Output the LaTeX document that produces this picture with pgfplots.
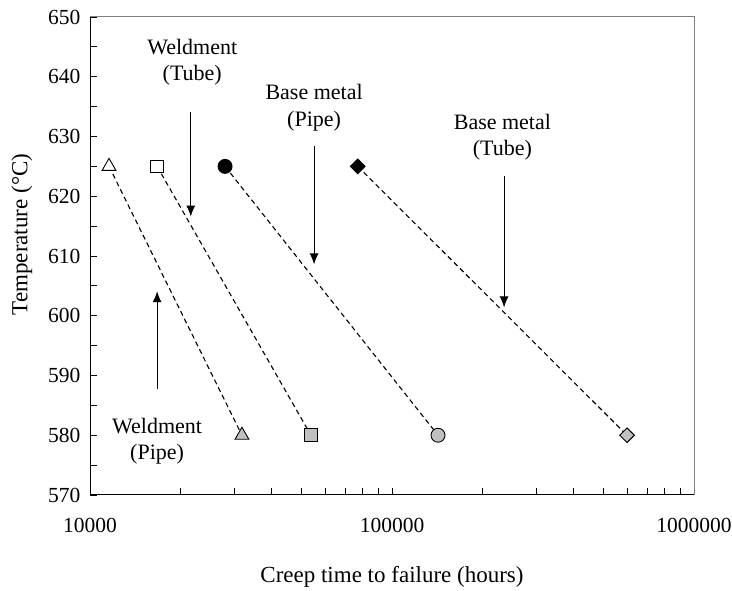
\documentclass[border=0pt]{standalone}
\usepackage{fontspec}
\setmainfont{Liberation Serif}
\usepackage{pgfplots}
\pgfplotsset{compat=1.18}
\usetikzlibrary{arrows.meta}
\definecolor{mgrey}{RGB}{192,192,192}
\begin{document}
\begin{tikzpicture}
\begin{axis}[
  scale only axis, width=604pt, height=478pt,
  xmode=log, xmin=10000, xmax=1000000,
  ymin=570, ymax=650,
  ytick={570,580,...,650}, minor ytick={575,585,...,645},
  xtick={10000,100000,1000000}, xticklabels={10000,100000,1000000},
  /pgf/number format/assume math mode=true,
  tick align=inside, major tick length=7pt, minor tick length=7pt,
  tick style={black, line width=0.9pt},
  axis x line*=bottom, axis y line*=left,
  axis line style={black, line width=1pt, -},
  ticklabel style={font=\fontsize{21.5}{26}\selectfont},
  xticklabel style={yshift=-20pt},
  yticklabel style={xshift=-6pt},
  label style={font=\fontsize{23}{28}\selectfont},
  xlabel={Creep time to failure (hours)},
  ylabel={Temperature (°C)},
  xlabel style={at={(axis description cs:0.5,-0.172)}, anchor=center},
  ylabel style={at={(axis description cs:-0.113,0.545)}, anchor=center},
  clip=false,
]
% dashed connecting lines
\addplot[black, line width=1.1pt, dash pattern=on 5pt off 3.5pt] coordinates {(11560,625) (31850,580)};
\addplot[black, line width=1.1pt, dash pattern=on 5pt off 3.5pt] coordinates {(16680,625) (53900,580)};
\addplot[black, line width=1.1pt, dash pattern=on 5pt off 3.5pt] coordinates {(28000,625) (142000,580)};
\addplot[black, line width=1.1pt, dash pattern=on 5pt off 3.5pt] coordinates {(77000,625) (600000,580)};
% markers at 625
\addplot[only marks, mark=triangle*, mark size=8pt, mark options={draw=black, fill=white, line width=0.9pt}] coordinates {(11560,625)};
\addplot[only marks, mark=square*, mark size=6.3pt, mark options={draw=black, fill=white, line width=0.9pt}] coordinates {(16680,625)};
\addplot[only marks, mark=*, mark size=7pt, mark options={draw=black, fill=black, line width=0.9pt}] coordinates {(28000,625)};
\addplot[only marks, mark=square*, mark size=5.2pt, mark options={draw=black, fill=black, line width=0.9pt, rotate=45}] coordinates {(77000,625)};
% markers at 580
\addplot[only marks, mark=triangle*, mark size=8pt, mark options={draw=black, fill=mgrey, line width=0.9pt}] coordinates {(31850,580)};
\addplot[only marks, mark=square*, mark size=6.5pt, mark options={draw=black, fill=mgrey, line width=0.9pt}] coordinates {(53900,580)};
\addplot[only marks, mark=*, mark size=7pt, mark options={draw=black, fill=mgrey, line width=0.9pt}] coordinates {(142000,580)};
\addplot[only marks, mark=square*, mark size=5.2pt, mark options={draw=black, fill=mgrey, line width=0.9pt, rotate=45}] coordinates {(600000,580)};
% annotations
\tikzset{annarrow/.style={-{Latex[length=11pt,width=9pt]}, line width=1pt}}
\draw[annarrow] (axis cs:21560,634.1) -- (axis cs:21560,616.6);
\node[align=center, font=\fontsize{22}{26.5}\selectfont] at (axis cs:21800,642.4) {Weldment\\(Tube)};
\draw[annarrow] (axis cs:55200,628.4) -- (axis cs:55200,608.6);
\node[align=center, font=\fontsize{22}{26.5}\selectfont] at (axis cs:55200,634.8) {Base metal\\(Pipe)};
\draw[annarrow] (axis cs:235000,623.4) -- (axis cs:235000,601.4);
\node[align=center, font=\fontsize{22}{26.5}\selectfont] at (axis cs:232000,629.9) {Base metal\\(Tube)};
\draw[annarrow] (axis cs:16680,587.7) -- (axis cs:16680,604.1);
\node[align=center, font=\fontsize{22}{26.5}\selectfont] at (axis cs:16680,579.0) {Weldment\\(Pipe)};
% grey top and right frame
\draw[gray, line width=1pt] (rel axis cs:0,1) -- (rel axis cs:1,1) -- (rel axis cs:1,0);
\coordinate (bbA) at (rel axis cs:0,0);
\coordinate (bbB) at (rel axis cs:1,1);
\end{axis}
\pgfresetboundingbox
\path[use as bounding box] ([xshift=-90pt,yshift=-96pt]bbA) rectangle ([xshift=38pt,yshift=17pt]bbB);
\end{tikzpicture}
\end{document}
